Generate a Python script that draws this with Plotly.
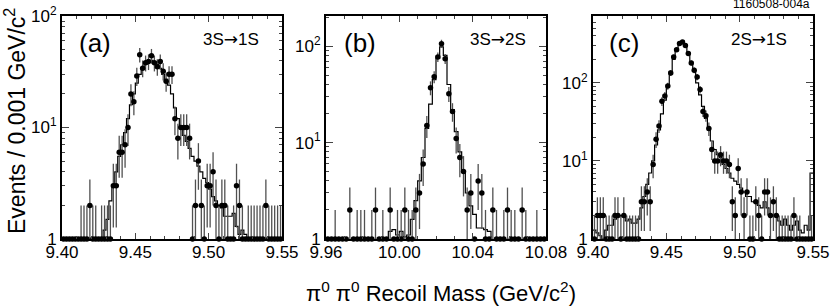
import numpy as np
import plotly.graph_objects as go

# ---------------- data (bin width 0.002 GeV/c^2) ----------------
BIN = 0.002
a_start = 9.40   # panel (a) 3S->1S
b_start = 9.96   # panel (b) 3S->2S
c_start = 9.40   # panel (c) 2S->1S

a_data = [0, 0, 0, 0, 0, 0, 1, 1, 1, 2, 1, 1, 0, 1, 1, 1, 1, 3, 3, 6,
          6, 7, 10, 20, 17, 29, 45, 34, 38, 39, 44, 38, 35, 39, 32, 26, 30, 30, 12, 8,
          10, 10, 10, 8, 1, 2, 5, 2, 1, 3, 3, 4, 2, 1, 2, 2, 1, 0, 1, 3,
          2, 1, 0, 1, 1, 1, 1, 1, 1, 2, 1, 1, 1, 1, 1]
a_mc = [0.3, 0.3, 0.3, 0.3, 0.3, 0.3, 0.3, 0.3, 0.3, 0.3, 0.3, 0.3, 0.3, 0.3, 1.2, 1.5, 2.2, 3, 4, 5.5,
        7, 9, 12, 16, 20, 25, 30, 34, 37, 39, 40, 39, 37, 34, 30, 27, 24, 20, 15, 12,
        10, 8.5, 7.5, 6.5, 5.5, 5, 4.5, 4, 3.5, 3.2, 2.8, 2.4, 2.2, 2, 1.9, 1.6, 1.6, 1.6, 1.7, 1.3,
        1.1, 1.2, 1.1, 0.8, 0.7, 0.5, 0.5, 0.5, 0.5, 0.5, 0.5, 0.5, 0.5, 0.5, 0.5]

b_data = [0, 0, 1, 0, 0, 0, 2, 0, 1, 1, 1, 0, 1, 2, 0, 1, 0, 2, 0, 1,
          1, 2, 1, 1, 2, 3, 6, 15, 37, 48, 77, 106, 74, 32, 21, 11, 7, 5, 2, 3,
          0, 4, 3, 1, 0, 2, 1, 0, 1, 2, 1, 1, 0, 2, 1, 0, 0, 1, 0, 0]
b_mc = [0.3, 0.3, 0.3, 0.3, 0.3, 0.3, 0.3, 0.3, 0.3, 0.3, 0.3, 0.3, 0.3, 0.3, 0.3, 0.3, 0.3, 1.2, 1.25, 1.1,
        1.2, 1.05, 1.1, 1.6, 2.5, 4, 7, 14, 25, 45, 75, 98, 80, 40, 22, 13, 8, 5, 3, 2.2,
        1.8, 1.3, 1.3, 1.25, 1.2, 0.3, 0.3, 0.3, 0.3, 0.3, 0.3, 0.3, 0.3, 0.3, 0.3, 0.3, 0.3, 0.3, 0.3, 0.3]

c_data = [1, 2, 2, 2, 1, 1, 1, 2, 2, 1, 2, 1, 1, 1, 1, 1, 3, 3, 4, 3,
          9, 19, 28, 58, 68, 91, 134, 215, 266, 320, 334, 300, 237, 180, 145, 119, 82, 43, 38, 26,
          14, 10, 10, 12, 10, 10, 9, 3, 2, 8, 4, 2, 4, 1, 1, 3, 2, 1, 4, 4,
          2, 3, 2, 1, 1, 1, 1, 1, 2, 1, 1, 0, 0, 1, 1]
c_mc = [1.3, 1.2, 1.1, 1.0, 1.3, 1.5, 1.5, 1.8, 2.0, 2.0, 2.0, 1.7, 1.8, 1.6, 1.6, 1.8, 2.5, 3.5, 5, 7,
        10, 16, 25, 40, 60, 90, 140, 200, 270, 320, 330, 300, 240, 180, 140, 100, 70, 50, 35, 25,
        18, 14, 12, 11, 9, 8, 7, 6, 5.5, 5, 4.5, 4, 3.5, 3.5, 3, 3, 2.7, 2.5, 3, 2.5,
        2, 2, 2, 1.7, 1.5, 1.8, 1.5, 1.3, 1.5, 1.7, 1.3, 1.2, 1.5, 1.3, 7]

ARROW = '<span style="font-family:DejaVu Sans">\u2192</span>'
panels = [
    dict(start=a_start, data=a_data, mc=a_mc, xr=[9.40, 9.55], dtick=0.05, yr=[0, 2.0],
         label="(a)", trans="3S" + ARROW + "1S"),
    dict(start=b_start, data=b_data, mc=b_mc, xr=[9.96, 10.08], dtick=0.04, yr=[0, 2.312],
         label="(b)", trans="3S" + ARROW + "2S"),
    dict(start=c_start, data=c_data, mc=c_mc, xr=[9.40, 9.55], dtick=0.05, yr=[0, 2.856],
         label="(c)", trans="2S" + ARROW + "1S"),
]

W, H = 830, 307
xdoms = [[62 / W, 282 / W], [326 / W, 546 / W], [593 / W, 813 / W]]
ydom = [1 - 239 / H, 1 - 16 / H]
FONT = "Liberation Sans, Arial, Helvetica, sans-serif"

fig = go.Figure()
FLOOR = 1.0
for k, p in enumerate(panels):
    n = np.array(p["data"], dtype=float)
    m = np.array(p["mc"], dtype=float)
    nb = len(n)
    centers = p["start"] + BIN * (np.arange(nb) + 0.5)
    edges = p["start"] + BIN * np.arange(nb + 1)
    xs = "x" if k == 0 else f"x{k+1}"
    ys = "y" if k == 0 else f"y{k+1}"

    # MC histogram
    fig.add_trace(go.Scatter(x=edges, y=np.append(m, m[-1]), mode="lines",
                             line=dict(shape="hv", color="black", width=1.2),
                             xaxis=xs, yaxis=ys, showlegend=False, hoverinfo="skip"))
    # data points with sqrt(N) errors; empty bins drawn on the axis floor
    ydisp = np.where(n > 0, n, FLOOR)
    err = np.sqrt(n)
    errm = np.minimum(err, np.maximum(n - FLOOR, 0))
    fig.add_trace(go.Scatter(x=centers, y=ydisp, mode="markers",
                             marker=dict(color="black", size=5.5),
                             error_y=dict(type="data", array=err, arrayminus=errm,
                                          width=0, thickness=1.3, color="#505050"),
                             cliponaxis=False,
                             xaxis=xs, yaxis=ys, showlegend=False))

    xkey = "xaxis" if k == 0 else f"xaxis{k+1}"
    ykey = "yaxis" if k == 0 else f"yaxis{k+1}"
    fig.layout[xkey] = dict(domain=xdoms[k], range=p["xr"], anchor=ys, automargin=False,
                            tickmode="linear", tick0=p["xr"][0], dtick=p["dtick"],
                            tickformat=".2f", ticks="inside", ticklen=6, tickwidth=1.2,
                            ticklabelstandoff=-3,
                            minor=dict(ticks="inside", ticklen=3, tickwidth=1, dtick=0.01,
                                       tick0=p["xr"][0], showgrid=False),
                            showline=True, linewidth=2, linecolor="black", mirror="ticks",
                            showgrid=False, zeroline=False,
                            tickfont=dict(family=FONT, size=17, color="black"))
    fig.layout[ykey] = dict(domain=ydom, type="log", range=p["yr"], anchor=xs, automargin=False,
                            tickmode="array", tickvals=[1, 10, 100],
                            ticktext=["1", "10<sup>1</sup>", "10<sup>2</sup>"],
                            ticks="inside", ticklen=7, tickwidth=1.2,
                            minor=dict(ticks="inside", ticklen=3, tickwidth=1, dtick="D1",
                                       showgrid=False),
                            showline=True, linewidth=2, linecolor="black", mirror="ticks",
                            showgrid=False, zeroline=False,
                            tickfont=dict(family=FONT, size=17, color="black"))

annos = []
label_x = [95, 360, 624]
trans_x = [231, 498, 759]
for k, p in enumerate(panels):
    annos.append(dict(text=p["label"], x=label_x[k] / W, y=1 - 43 / H, xref="paper", yref="paper",
                      showarrow=False, xanchor="center", yanchor="middle",
                      font=dict(family=FONT, size=26, color="black")))
    annos.append(dict(text=p["trans"], x=trans_x[k] / W, y=1 - 39 / H, xref="paper", yref="paper",
                      showarrow=False, xanchor="center", yanchor="middle",
                      font=dict(family=FONT, size=17, color="black")))
annos.append(dict(text="Events / 0.001 GeV/c<sup>2</sup>", x=15 / W, y=1 - 121 / H,
                  xref="paper", yref="paper", showarrow=False, textangle=-90,
                  xanchor="center", yanchor="middle",
                  font=dict(family=FONT, size=23, color="black")))
annos.append(dict(text="\u03c0<sup>0</sup> \u03c0<sup>0</sup> Recoil Mass (GeV/c<sup>2</sup>)",
                  x=441 / W, y=1 - 292 / H, xref="paper", yref="paper", showarrow=False,
                  xanchor="center", yanchor="middle",
                  font=dict(family=FONT, size=22, color="black")))
annos.append(dict(text="1160508-004a", x=812 / W, y=1 - 4 / H, xref="paper", yref="paper",
                  showarrow=False, xanchor="right", yanchor="middle",
                  font=dict(family=FONT, size=12, color="black")))

fig.update_layout(width=W, height=H, margin=dict(l=0, r=0, t=0, b=0),
                  paper_bgcolor="white", plot_bgcolor="white", annotations=annos)
fig.write_html("out.html", config={"displayModeBar": False},
               post_script="document.body.style.margin='0';document.body.style.overflow='hidden';")
